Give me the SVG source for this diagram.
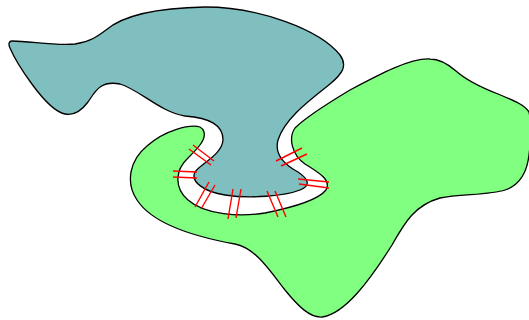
<svg xmlns="http://www.w3.org/2000/svg" width="529" height="320" viewBox="0 0 529 320">
<style>
.shape{stroke:#000;stroke-width:1.3;stroke-linejoin:round}
.teal{fill:#80bfbf}
.green{fill:#80ff80}
.hatch line{stroke:#ff0000;stroke-width:1.4}
</style>
<rect width="529" height="320" fill="#fff"/>
<g id="green-region">
<path class="shape green" d="M 200,127 C 190,124 165,130 147,146 C 130,160 125,182 137,200 C 150,220 185,235 235,244 C 255,248 268,268 285,290 C 298,306 310,318 322,317 C 345,314 370,280 392,245 C 405,222 415,205 440,198 C 460,194 490,195 505,190 C 520,185 527,172 529,155 C 531,140 531,120 529,112 C 524,104 512,100 498,94 C 480,87 466,80 456,71 C 448,64 440,59 430,59 C 410,58 380,74 350,90 C 325,105 305,118 295,128 C 288,138 292,155 305,164 C 318,172 332,180 326,190 C 318,200 290,208 265,213 C 240,217 205,215 188,200 C 174,188 175,170 188,158 C 198,148 206,140 204,132 C 203,129 202,128 200,127 Z"/>
</g>
<g id="teal-region">
<path class="shape teal" d="M 12,41 C 30,41 55,46 75,44 C 90,42 98,36 106,30 C 120,18 150,8 205,7 C 260,7 320,30 340,55 C 348,66 342,74 330,84 C 310,100 285,118 278,140 C 274,155 285,165 298,172 C 310,180 310,186 300,190 C 285,196 250,199 225,195 C 205,192 190,182 195,172 C 200,164 222,155 223,140 C 223,125 210,118 185,116 C 160,112 140,90 120,84 C 100,80 95,92 88,102 C 82,110 75,116 65,114 C 45,110 15,60 10,48 C 8,44 9,41 12,41 Z"/>
</g>
<g id="hatches" class="hatch">
<line x1="193" y1="145" x2="214" y2="161"/>
<line x1="189" y1="149" x2="211" y2="165"/>
<line x1="173" y1="171" x2="197" y2="172"/>
<line x1="173" y1="177" x2="197" y2="178"/>
<line x1="209" y1="182" x2="195" y2="207"/>
<line x1="215" y1="185" x2="201" y2="209"/>
<line x1="233" y1="189" x2="228" y2="219"/>
<line x1="241" y1="189" x2="236" y2="218"/>
<line x1="267" y1="191" x2="278" y2="217"/>
<line x1="275" y1="191" x2="286" y2="217"/>
<line x1="298" y1="179" x2="329" y2="182"/>
<line x1="299" y1="184" x2="329" y2="188"/>
<line x1="276" y1="161" x2="302" y2="148"/>
<line x1="281" y1="166" x2="307" y2="154"/>
</g>
</svg>
